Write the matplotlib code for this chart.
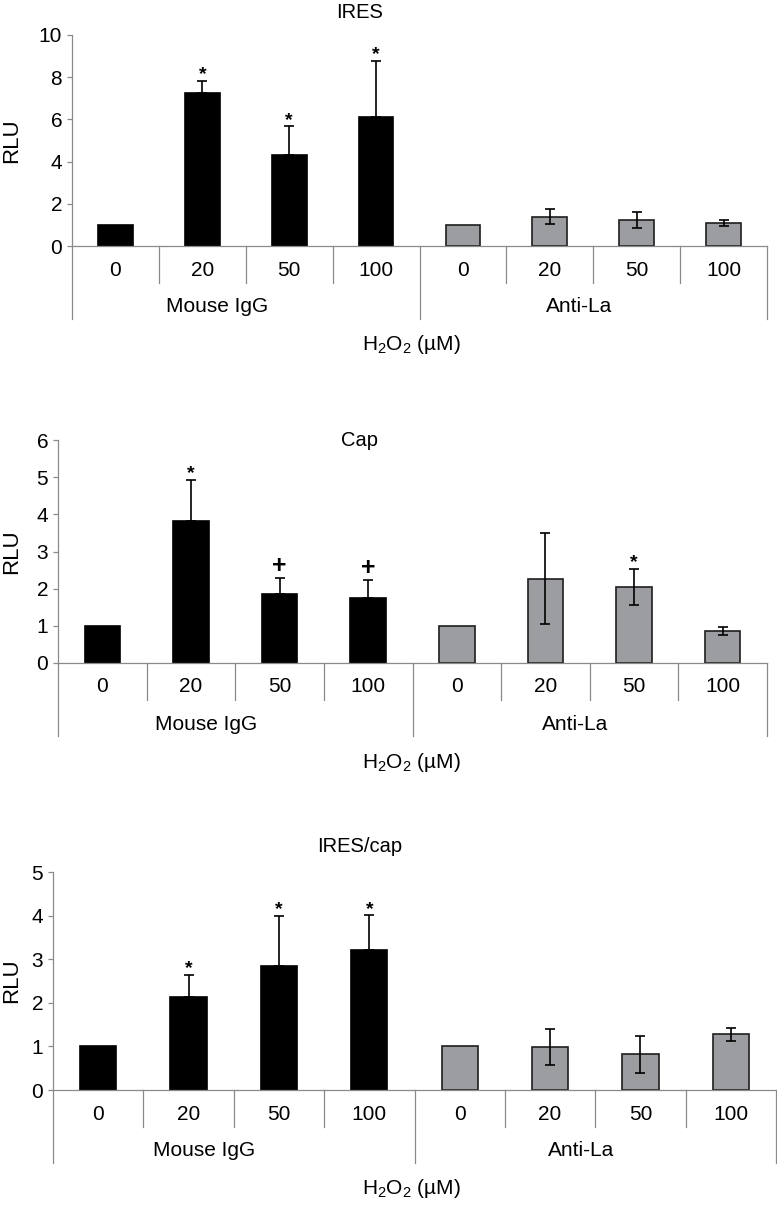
import matplotlib
matplotlib.use("Agg")
import matplotlib.pyplot as plt

plt.rcParams["font.family"] = ["Liberation Sans", "DejaVu Sans"]
plt.rcParams["mathtext.fontset"] = "custom"
plt.rcParams["mathtext.rm"] = "Liberation Sans"
plt.rcParams["mathtext.it"] = "Liberation Sans:italic"

# data
doses = ["0", "20", "50", "100"]
groups = ["Mouse IgG", "Anti-La"]
titles = ["IRES", "Cap", "IRES/cap"]

ires_igg = [1.0, 7.25, 4.30, 6.13]
ires_igg_err = [0, 0.57, 1.37, 2.64]
ires_la = [1.0, 1.39, 1.25, 1.10]
ires_la_err = [0, 0.37, 0.38, 0.14]

cap_igg = [1.0, 3.83, 1.85, 1.75]
cap_igg_err = [0, 1.10, 0.43, 0.49]
cap_la = [1.0, 2.27, 2.05, 0.86]
cap_la_err = [0, 1.22, 0.48, 0.10]

ratio_igg = [1.0, 2.14, 2.84, 3.20]
ratio_igg_err = [0, 0.50, 1.15, 0.81]
ratio_la = [1.0, 0.99, 0.82, 1.28]
ratio_la_err = [0, 0.42, 0.43, 0.15]

ires_marks = ["", "*", "*", "*", "", "", "", ""]
cap_marks = ["", "*", "+", "+", "", "", "*", ""]
ratio_marks = ["", "*", "*", "*", "", "", "", ""]

panels = [
    (ires_igg, ires_igg_err, ires_la, ires_la_err, ires_marks, 10, 2),
    (cap_igg, cap_igg_err, cap_la, cap_la_err, cap_marks, 6, 1),
    (ratio_igg, ratio_igg_err, ratio_la, ratio_la_err, ratio_marks, 5, 1),
]

W, H = 777, 1207
fig = plt.figure(figsize=(W / 100, H / 100), dpi=100)

# pixel boxes: left, right, top of y range, zero line
boxes = [(72, 767, 35, 246), (58, 767, 440, 663), (53, 776, 872, 1090)]
title_gap = [22, 0, 25]
AXC = "#8a8a8a"
GRAY = "#9c9da0"
PX = 0.72  # points per pixel at dpi 100
FS = 15

for i, (igg, igg_e, la, la_e, marks, ymax, step) in enumerate(panels):
    l, r, t, z = boxes[i]
    ax = fig.add_axes([l / W, 1 - z / H, (r - l) / W, (z - t) / H])
    hpx = z - t

    vals = igg + la
    errs = igg_e + la_e
    xs = list(range(8))
    colors = ["black"] * 4 + [GRAY] * 4
    edges = ["black"] * 4 + ["#1e1e1e"] * 4
    ax.bar(xs, vals, width=0.40, color=colors, edgecolor=edges, linewidth=1.2, zorder=2)

    # black bars: upward error only; gray bars: both directions
    for x, v, e in zip(xs, vals, errs):
        if e <= 0:
            continue
        lower = 0 if x < 4 else e
        ax.errorbar(x, v, yerr=[[lower], [e]], fmt="none", ecolor="black",
                    elinewidth=1.2, capsize=3.4, capthick=1.2, zorder=3)

    for x, v, e, m in zip(xs, vals, errs, marks):
        if not m:
            continue
        if m == "*":
            ax.annotate(m, (x, v + e), xytext=(0, 6 * PX), textcoords="offset points",
                        ha="center", va="center", fontsize=14, fontweight="bold")
        else:
            ax.annotate(m, (x, v + e), xytext=(0, 12 * PX), textcoords="offset points",
                        ha="center", va="center", fontsize=18, fontweight="bold")

    ax.set_xlim(-0.5, 7.5)
    ax.set_ylim(0, ymax)
    ax.set_yticks(range(0, ymax + 1, step))
    ax.set_xticks([])
    for s in ["top", "right"]:
        ax.spines[s].set_visible(False)
    for s in ["left", "bottom"]:
        ax.spines[s].set_color(AXC)
        ax.spines[s].set_linewidth(0.9)
    ax.tick_params(axis="y", length=3.6, width=0.9, color=AXC, labelsize=FS, pad=3.5)

    # category dividers and group separators below the axis
    tr = ax.get_xaxis_transform()
    for b in [0.5, 1.5, 2.5, 4.5, 5.5, 6.5]:
        ax.plot([b, b], [0, -37 / hpx], color=AXC, lw=0.9, transform=tr, clip_on=False)
    for b in [-0.5, 3.5, 7.5]:
        ax.plot([b, b], [0, -73 / hpx], color=AXC, lw=0.9, transform=tr, clip_on=False)

    for x, lab in zip(xs, doses + doses):
        ax.text(x, -24 / hpx, lab, transform=tr, ha="center", va="center", fontsize=FS)
    for gx, g in zip([1.17, 5.34], groups):
        ax.text(gx, -61 / hpx, g, transform=tr, ha="center", va="center", fontsize=FS)

    ax.annotate(r"H$_\mathrm{2}$O$_\mathrm{2}$ (µM)", xy=(411 / W, 0),
                xycoords=("figure fraction", "axes fraction"),
                xytext=(0, -99 * PX), textcoords="offset points",
                ha="center", va="center", fontsize=FS)
    ax.annotate(titles[i], xy=(360 / W, 1), xycoords=("figure fraction", "axes fraction"),
                xytext=(0, title_gap[i] * PX), textcoords="offset points",
                ha="center", va="center", fontsize=14.5)
    fig.text(12 / W, 1 - (t + z) / 2 / H, "RLU", rotation=90, ha="center", va="center",
             fontsize=16)

fig.savefig("out.png", dpi=100)
